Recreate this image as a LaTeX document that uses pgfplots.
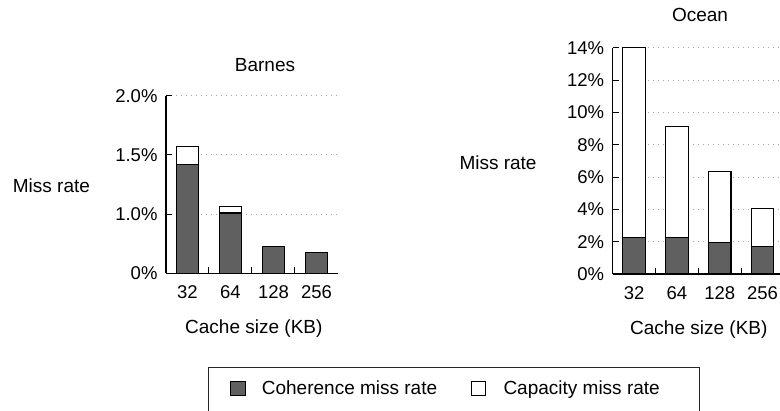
\documentclass[border=0pt]{standalone}
\usepackage{pgfplots}
\pgfplotsset{compat=1.18}
\usepackage{fontspec}
\setmainfont{Liberation Sans}
\definecolor{coh}{HTML}{606060}
\newcommand{\tickfont}{\fontsize{18.5}{20}\selectfont}
\newcommand{\labfont}{\fontsize{19}{21}\selectfont}
\pgfplotstableread{
x coh cap
0 1.42 0.15
1 1.01 0.055
2 0.726 0
3 0.676 0
}\barnes
\pgfplotstableread{
x coh cap
0 2.25 11.75
1 2.25 6.86
2 1.96 4.39
3 1.69 2.36
}\ocean
\pgfplotsset{
  mystyle/.style={
    scale only axis,
    axis lines=left,
    axis line style={-, line width=1.2pt},
    ybar stacked,
    bar width=22.5pt,
    xmin=-0.5, xmax=3.5,
    xtick={0.5,1.5,2.5},
    xticklabels={},
    extra x ticks={0,1,2,3},
    extra x tick labels={32,64,128,256},
    extra x tick style={major tick length=0pt, grid=none},
    tick align=inside,
    major tick length=6pt,
    tick style={black, line width=1pt},
    ymajorgrids,
    grid style={gray!70, dash pattern=on 1pt off 4pt, line width=0.9pt},
    tick label style={font=\tickfont},
    yticklabel style={xshift=-5pt},
    xticklabel style={yshift=-9pt},
  },
  cohbar/.style={fill=coh, draw=black, line width=1.2pt},
  capbar/.style={fill=white, draw=black, line width=1.2pt},
}
\begin{document}
\begin{tikzpicture}[x=1pt,y=1pt]
\begin{axis}[mystyle,
  at={(166pt,137.7pt)}, anchor=south west,
  width=172pt, height=177.6pt,
  ymin=0.5, ymax=2.0,
  ytick={0.5,1.0,1.5,2.0},
  yticklabels={0\%,1.0\%,1.5\%,2.0\%},
]
\addplot[cohbar] table[x=x,y=coh]{\barnes};
\addplot[capbar] table[x=x,y=cap]{\barnes};
\end{axis}
\begin{axis}[mystyle,
  at={(612.7pt,137pt)}, anchor=south west,
  width=171.2pt, height=226.3pt,
  ymin=0, ymax=14,
  ytick={0,2,4,6,8,10,12,14},
  yticklabels={0\%,2\%,4\%,6\%,8\%,10\%,12\%,14\%},
]
\addplot[cohbar] table[x=x,y=coh]{\ocean};
\addplot[capbar] table[x=x,y=cap]{\ocean};
\end{axis}
% titles and labels
\node[anchor=base, inner sep=0pt, font=\labfont] at (265,339.3) {Barnes};
\node[anchor=base, inner sep=0pt, font=\labfont] at (700,389.3) {Ocean};
\node[anchor=base west, inner sep=0pt, font=\labfont] at (12.7,218.5) {Miss rate};
\node[anchor=base west, inner sep=0pt, font=\labfont] at (459.3,241.2) {Miss rate};
\node[anchor=base west, inner sep=0pt, font=\labfont] at (185,77.7) {Cache size (KB)};
\node[anchor=base west, inner sep=0pt, font=\labfont] at (630,76) {Cache size (KB)};
% legend
\draw[line width=1pt, black!85] (208,-3) rectangle (699,43.7);
\draw[fill=coh, draw=black, line width=0.8pt] (230,15.3) rectangle (245,29.3);
\node[anchor=base west, inner sep=0pt, font=\labfont] at (261.7,16) {Coherence miss rate};
\draw[fill=white, draw=black, line width=0.8pt] (471.7,15.3) rectangle (485.7,29.3);
\node[anchor=base west, inner sep=0pt, font=\labfont] at (503.3,16) {Capacity miss rate};
\pgfresetboundingbox
\path[use as bounding box] (0,0) rectangle (780,411);
\end{tikzpicture}
\end{document}
